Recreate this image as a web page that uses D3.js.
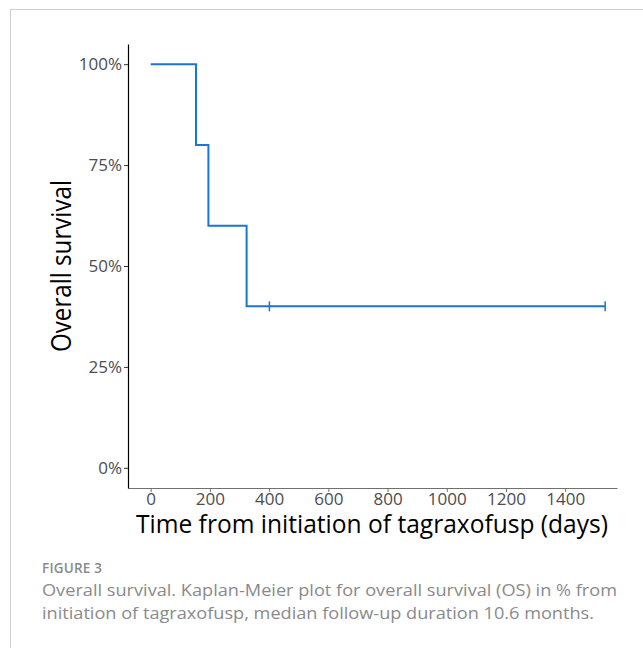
<!DOCTYPE html>
<html>
<head>
<meta charset="utf-8">
<script src="https://cdn.jsdelivr.net/npm/d3@7"></script>
<style>
  body { margin: 0; background: #fff; }
  svg { display: block; }
  .tick text { font-family: "Open Sans", sans-serif; font-size: 17px; fill: #4d4d4d; }
  .caption { font-family: "Open Sans", sans-serif; fill: #8a8a8a; }
</style>
</head>
<body>
<div id="chart"></div>
<script>
// KM steps (days, survival)
let stepTimes = [0, 153, 195, 324, 1535];
let stepSurv = [1.0, 0.8, 0.6, 0.4, 0.4];
let censorTimes = [401, 1535];
let censorSurv = [0.4, 0.4];
let xTicks = [0, 200, 400, 600, 800, 1000, 1200, 1400];
let yTicks = [0, 0.25, 0.5, 0.75, 1];

let svg = d3.select("#chart")
    .append("svg")
    .attr("width", 643)
    .attr("height", 648);

// page frame
svg.append("path")
    .attr("d", "M10.5,648V9.5H643")
    .attr("fill", "none")
    .attr("stroke", "#cfcfcf")
    .attr("stroke-width", 1);

let x = d3.scaleLinear()
    .domain([-76.6, 1575])
    .range([128, 617]);

let y = d3.scaleLinear()
    .domain([-0.05, 1.05])
    .range([488, 44]);

let xAxis = svg.append("g")
    .attr("transform", "translate(0,488)")
    .call(d3.axisBottom(x).tickValues(xTicks).tickFormat(d3.format("d")).tickSize(4).tickSizeOuter(0).tickPadding(1));
xAxis.select(".domain").attr("stroke", "#707070").attr("stroke-width", 1.2);
xAxis.selectAll(".tick line").attr("stroke", "#707070");

let yAxis = svg.append("g")
    .attr("transform", "translate(128,0)")
    .call(d3.axisLeft(y).tickValues(yTicks).tickFormat(d3.format(".0%")).tickSize(4).tickSizeOuter(0).tickPadding(2));
yAxis.select(".domain").attr("stroke", "#000").attr("stroke-width", 1.2);
yAxis.selectAll(".tick line").attr("stroke", "#333");

// survival curve
let steps = stepTimes.map((t, i) => [t, stepSurv[i]]);
svg.append("path")
    .datum(steps)
    .attr("fill", "none")
    .attr("stroke", "#1976d2")
    .attr("stroke-width", 2)
    .attr("d", d3.line()
        .x(d => x(d[0]))
        .y(d => y(d[1]))
        .curve(d3.curveStepAfter));

// censor marks
svg.selectAll(".censor")
    .data(censorTimes.map((t, i) => [t, censorSurv[i]]))
    .enter()
    .append("path")
    .attr("class", "censor")
    .attr("stroke", "#1976d2")
    .attr("stroke-width", 1.5)
    .attr("d", d => "M" + x(d[0]) + "," + (y(d[1]) - 5) + "V" + (y(d[1]) + 5));

// axis titles
svg.append("text")
    .attr("transform", "translate(71,266) rotate(-90)")
    .attr("text-anchor", "middle")
    .attr("textLength", 172)
    .attr("lengthAdjust", "spacingAndGlyphs")
    .style("font-family", "'Open Sans', sans-serif")
    .style("font-size", "27px")
    .attr("fill", "#000")
    .text("Overall survival");

svg.append("text")
    .attr("x", 372)
    .attr("y", 533)
    .attr("text-anchor", "middle")
    .attr("textLength", 472)
    .attr("lengthAdjust", "spacingAndGlyphs")
    .style("font-family", "'Open Sans', sans-serif")
    .style("font-size", "25px")
    .attr("fill", "#000")
    .text("Time from initiation of tagraxofusp (days)");

// caption
svg.append("text")
    .attr("class", "caption")
    .attr("x", 42)
    .attr("y", 573)
    .style("font-size", "13.5px")
    .style("font-weight", "600")
    .style("letter-spacing", "0.2px")
    .text("FIGURE 3");

svg.append("text")
    .attr("class", "caption")
    .attr("x", 42)
    .attr("y", 596)
    .attr("textLength", 575)
    .attr("lengthAdjust", "spacingAndGlyphs")
    .style("font-size", "16.5px")
    .text("Overall survival. Kaplan-Meier plot for overall survival (OS) in % from");

svg.append("text")
    .attr("class", "caption")
    .attr("x", 42)
    .attr("y", 619)
    .attr("textLength", 552)
    .attr("lengthAdjust", "spacingAndGlyphs")
    .style("font-size", "16.5px")
    .text("initiation of tagraxofusp, median follow-up duration 10.6 months.");
</script>
</body>
</html>
